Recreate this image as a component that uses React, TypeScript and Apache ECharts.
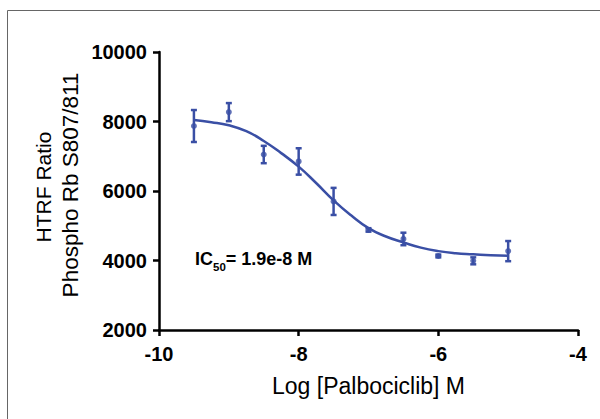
import React, { useEffect, useRef } from "react";
import * as echarts from "echarts";

// Measured points (log molar concentration, mean HTRF ratio, SD)
const logConc = [-9.5, -9, -8.5, -8, -7.5, -7, -6.5, -6, -5.5, -5];
const meanValues = [7870, 8270, 7050, 6850, 5700, 4880, 4620, 4130, 3990, 4270];
const errValues = [460, 260, 250, 380, 390, 50, 180, 40, 100, 290];

// Fitted curve
const curveX = [-9.5, -9.25, -9, -8.75, -8.5, -8.25, -8, -7.75, -7.5, -7.25, -7, -6.75, -6.5, -6.25, -6, -5.75, -5.5, -5.25, -5];
const curveY = [8040, 7980, 7890, 7720, 7440, 7090, 6700, 6230, 5730, 5300, 4930, 4690, 4520, 4370, 4270, 4210, 4180, 4150, 4140];

const xTicks = [-10, -8, -6, -4];
const yTicks = [2000, 4000, 6000, 8000, 10000];

const BLUE = "#3A4FA5";
const FONT = "Liberation Sans, Arial";

export default function App() {
  const ref = useRef<HTMLDivElement>(null);
  useEffect(() => {
    if (!ref.current) return;
    const chart = echarts.init(ref.current, null, { renderer: "svg" });
    const errData = logConc.map((x, i) => [x, meanValues[i] - errValues[i], meanValues[i] + errValues[i]]);
    chart.setOption({
      animation: false,
      backgroundColor: "#ffffff",
      grid: { left: 159, right: 22, top: 52, bottom: 89, containLabel: false },
      xAxis: {
        type: "value",
        min: xTicks[0],
        max: xTicks[xTicks.length - 1],
        interval: 2,
        name: "Log [Palbociclib] M",
        nameLocation: "middle",
        nameGap: 44,
        nameTextStyle: { fontFamily: FONT, fontSize: 23, color: "#000" },
        axisLine: { lineStyle: { color: "#000", width: 2.5 } },
        axisTick: { show: true, length: 6, lineStyle: { color: "#000", width: 2.5 } },
        axisLabel: { margin: 14, fontFamily: FONT, fontSize: 20, fontWeight: "bold", color: "#000", formatter: (v: number) => String(v) },
        splitLine: { show: false },
      },
      yAxis: {
        type: "value",
        min: yTicks[0],
        max: yTicks[yTicks.length - 1],
        interval: 2000,
        axisLine: { show: true, lineStyle: { color: "#000", width: 2.5 } },
        axisTick: { show: true, length: 6, lineStyle: { color: "#000", width: 2.5 } },
        axisLabel: { margin: 12, fontFamily: FONT, fontSize: 20, fontWeight: "bold", color: "#000", formatter: (v: number) => String(v) },
        splitLine: { show: false },
      },
      graphic: [
        { type: "line", shape: { x1: 7.5, y1: 10.5, x2: 600, y2: 10.5 }, style: { stroke: "#666", lineWidth: 1 } },
        { type: "line", shape: { x1: 7.5, y1: 10.5, x2: 7.5, y2: 419 }, style: { stroke: "#666", lineWidth: 1 } },
        {
          type: "text", x: 43, y: 187, rotation: Math.PI / 2,
          style: { text: "HTRF Ratio", fontFamily: FONT, fontSize: 21, fill: "#000", textAlign: "center", textVerticalAlign: "middle" },
        },
        {
          type: "text", x: 70, y: 185, rotation: Math.PI / 2,
          style: { text: "Phospho Rb S807/811", fontFamily: FONT, fontSize: 22.5, fill: "#000", textAlign: "center", textVerticalAlign: "middle" },
        },
        {
          type: "text", x: 195, y: 259,
          style: {
            text: "{b|IC}{s|50}{b|= 1.9e-8 M}",
            textVerticalAlign: "middle",
            rich: {
              b: { fontFamily: FONT, fontSize: 18, fontWeight: "bold", fill: "#000", lineHeight: 20, verticalAlign: "middle" },
              s: { fontFamily: FONT, fontSize: 11.5, fontWeight: "bold", fill: "#000", lineHeight: 20, verticalAlign: "bottom", padding: [0, 0, -4, 0] },
            },
          },
        },
      ],
      series: [
        {
          type: "line",
          data: curveX.map((x, i) => [x, curveY[i]]),
          smooth: true,
          showSymbol: false,
          symbol: "none",
          lineStyle: { color: BLUE, width: 2.5 },
          z: 2,
        },
        {
          type: "custom",
          data: errData,
          renderItem: (params: any, api: any) => {
            const x = api.value(0);
            const lo = api.coord([x, api.value(1)]);
            const hi = api.coord([x, api.value(2)]);
            const cw = 3;
            const st = { stroke: BLUE, lineWidth: 2.5 };
            return {
              type: "group",
              children: [
                { type: "line", shape: { x1: lo[0], y1: lo[1], x2: hi[0], y2: hi[1] }, style: st },
                { type: "line", shape: { x1: lo[0] - cw, y1: lo[1], x2: lo[0] + cw, y2: lo[1] }, style: st },
                { type: "line", shape: { x1: hi[0] - cw, y1: hi[1], x2: hi[0] + cw, y2: hi[1] }, style: st },
              ],
            };
          },
          z: 3,
        },
        {
          type: "scatter",
          data: logConc.map((x, i) => [x, meanValues[i]]),
          symbol: "circle",
          symbolSize: 6,
          itemStyle: { color: BLUE },
          z: 4,
        },
      ],
    });
    return () => chart.dispose();
  }, []);
  return <div ref={ref} style={{ position: "absolute", left: 0, top: 0, width: 600, height: 419 }} />;
}
